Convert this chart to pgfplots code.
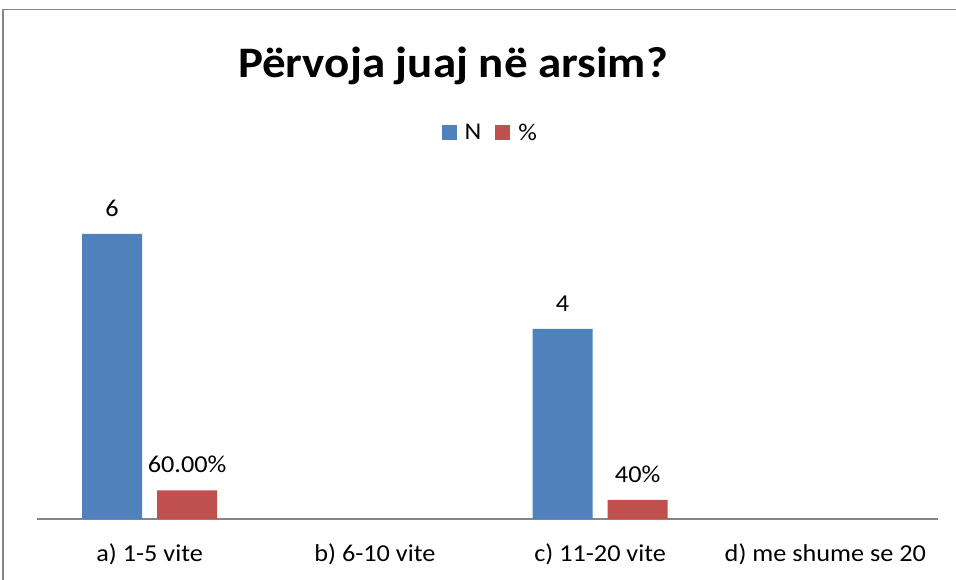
\documentclass[border=0pt]{standalone}
\usepackage{pgfplots}
\pgfplotsset{compat=1.18}
\usepackage{fontspec}
\setmainfont{Carlito}[FakeStretch=1.08]
\definecolor{nblue}{HTML}{4F81BD}
\definecolor{pred}{HTML}{C0504D}
\definecolor{axgray}{HTML}{868686}
\begin{document}
\begin{tikzpicture}[x=1pt,y=1pt]
\path[use as bounding box] (0,0) rectangle (956,580);
\clip (0,0) rectangle (956,580);
\fill[white] (0,0) rectangle (956,580);
\draw[axgray, line width=1.2pt] (3,0) -- (3,570.5) -- (956,570.5);
\node[anchor=base, inner sep=0pt, font=\fontsize{43.5}{50}\selectfont\bfseries] at (453,502) {Përvoja juaj në arsim?};
\begin{axis}[
  at={(37pt,61pt)}, anchor=south west,
  scale only axis, width=901pt, height=332.5pt,
  xmin=-0.5, xmax=3.5, ymin=0, ymax=7,
  axis y line=none, axis x line*=bottom,
  x axis line style={-, axgray, line width=1.2pt},
  ybar=15pt, bar width=60pt,
  xtick={0,1,2,3},
  xticklabels={a) 1-5 vite, b) 6-10 vite, c) 11-20 vite, d) me shume se 20},
  major tick length=0pt,
  xticklabel style={anchor=base, yshift=-42.7pt, inner sep=0pt, font=\fontsize{24.3}{28}\selectfont},
  nodes near coords, point meta=explicit symbolic,
  nodes near coords style={anchor=base, yshift=17.5pt, inner sep=0pt, font=\fontsize{24.3}{28}\selectfont},
  legend style={at={(0.503,1.161)}, anchor=center, draw=none, fill=none,
    legend columns=2, font=\fontsize{24}{28}\selectfont,
    /tikz/every odd column/.append style={column sep=6pt},
    /tikz/every even column/.append style={column sep=12pt}},
  legend image code/.code={\fill[#1] (0pt,-7.5pt) rectangle (15pt,7.5pt);},
  clip=false,
]
\addplot[fill=nblue, draw=none] coordinates {(0,6) [6] (2,4) [4]};
\addplot[fill=pred, draw=none] coordinates {(0,0.6) [60.00\%] (2,0.4) [40\%]};
\legend{N, \%}
\end{axis}
\end{tikzpicture}
\end{document}
